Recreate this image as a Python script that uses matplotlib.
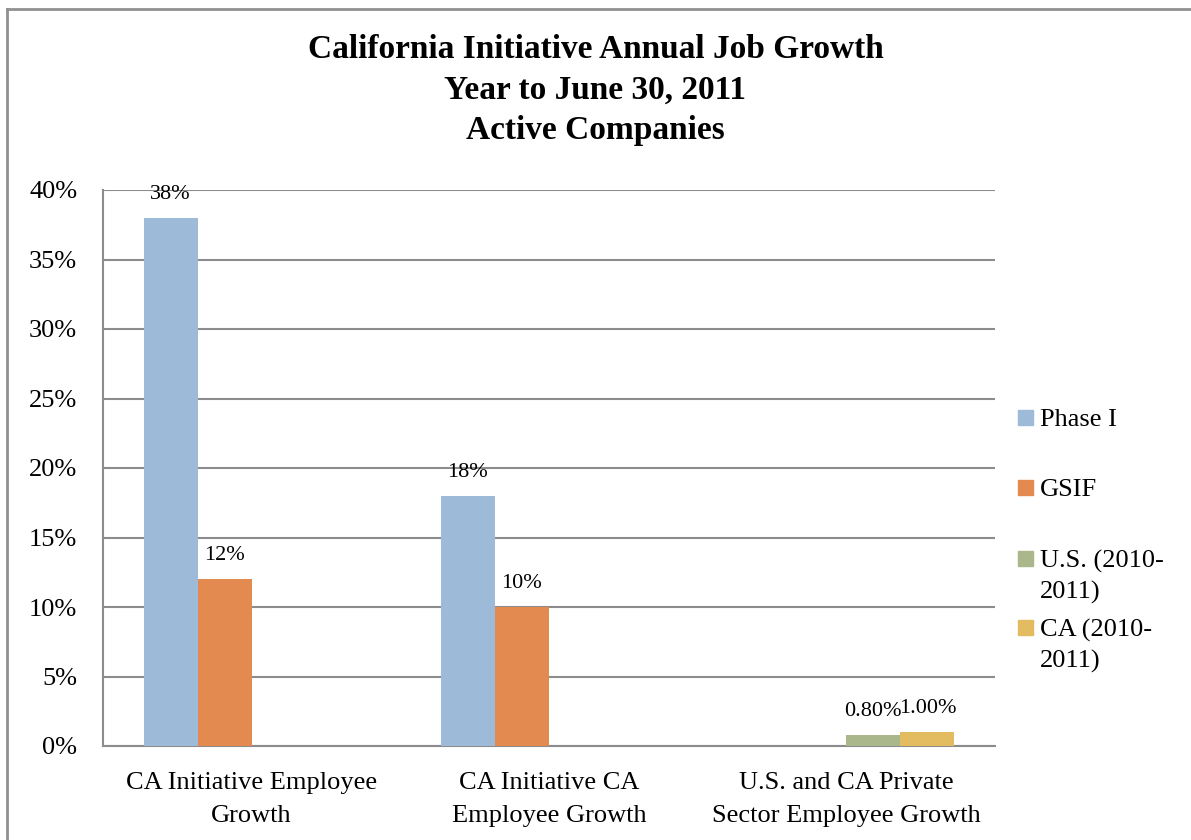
import matplotlib
matplotlib.use("Agg")
import matplotlib.pyplot as plt
import numpy as np

categories = ["CA Initiative Employee\nGrowth", "CA Initiative CA\nEmployee Growth",
              "U.S. and CA Private\nSector Employee Growth"]
series_names = ["Phase I", "GSIF", "U.S. (2010-\n2011)", "CA (2010-\n2011)"]
phase1 = [38, 18, None]
gsif = [12, 10, None]
us = [None, None, 0.8]
ca = [None, None, 1.0]
label_fmt = ["{:.0f}%", "{:.0f}%", "{:.2f}%", "{:.2f}%"]
colors = ["#9DBBD8", "#E28A50", "#A9B78A", "#E3BC62"]

plt.rcParams["font.family"] = ["Liberation Serif", "DejaVu Serif"]
W, H = 1191, 840

fig = plt.figure(figsize=(W / 100, H / 100), dpi=100)
# chart frame: only left and top edges are visible in the picture
fig.add_artist(plt.Line2D([7 / W, 7 / W], [0, 1 - 9 / H], color="#909090", lw=2))
fig.add_artist(plt.Line2D([7 / W, 1], [1 - 9 / H, 1 - 9 / H], color="#909090", lw=2))

ax = fig.add_axes([103 / W, 1 - 746 / H, 892 / W, (746 - 190) / H])

x = np.arange(len(categories))
width = 0.727 / 4
for i, vals in enumerate([phase1, gsif, us, ca]):
    pos = x + (i - 1.5) * width
    for p, v in zip(pos, vals):
        if v is None:
            continue
        ax.bar(p, v, width, color=colors[i], zorder=3)
        ax.annotate(label_fmt[i].format(v), (p, v), xytext=(0, 17), textcoords="offset points",
                    ha="center", va="center", fontsize=16, zorder=4)

ax.set_xlim(-0.5, 2.5)
ax.set_ylim(0, 40)
ax.set_yticks(np.arange(0, 41, 5))
ax.set_yticklabels([f"{t}%" for t in range(0, 41, 5)], fontsize=19)
ax.set_xticks(x)
ax.set_xticklabels(categories, fontsize=19, linespacing=1.6)
ax.tick_params(axis="y", length=0, pad=18.5)
ax.tick_params(axis="x", length=0, pad=19)
ax.yaxis.grid(True, color="#8c8c8c", linewidth=1.5, zorder=0)
for s in ["top", "right"]:
    ax.spines[s].set_visible(False)
for s in ["left", "bottom"]:
    ax.spines[s].set_color("#8c8c8c")
    ax.spines[s].set_linewidth(1.5)

fig.text(0.5, 1 - 90 / H, "California Initiative Annual Job Growth\nYear to June 30, 2011\nActive Companies",
         ha="center", va="center", fontsize=24, fontweight="bold", linespacing=1.38)

# legend entries laid out like the Excel legend
legend_rows = [417, 487, 558, 627]
for name, c, yrow in zip(series_names, colors, legend_rows):
    fig.add_artist(plt.Rectangle((1018 / W, 1 - (yrow + 8) / H), 15 / W, 15 / H,
                                 color=c, transform=fig.transFigure))
    fig.text(1040 / W, 1 - (yrow - 8) / H, name, ha="left", va="top", fontsize=19,
             linespacing=1.45)

fig.savefig("out.png", dpi=100)
